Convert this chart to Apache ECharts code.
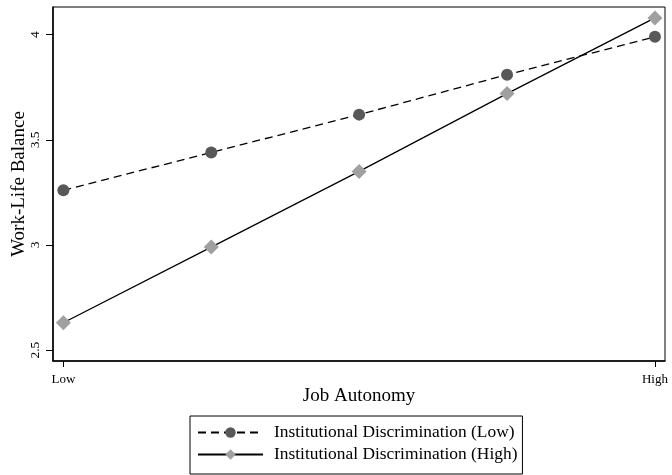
<!DOCTYPE html>
<html><head><meta charset="utf-8">
<script src="https://cdn.jsdelivr.net/npm/echarts@6/dist/echarts.min.js"></script>
<style>html,body{margin:0;padding:0;background:#fff}#c{width:672px;height:475px}</style>
</head><body><div id="c"></div>
<script>
const xPositions = [0, 1, 2, 3, 4];
const xTickValues = [0, 4];
const xTickLabels = {0: 'Low', 4: 'High'};
const yTickValues = [2.5, 3, 3.5, 4];
const lowDisc = [3.26, 3.44, 3.62, 3.81, 3.99];
const highDisc = [2.63, 2.99, 3.35, 3.72, 4.08];
const seriesNames = ['Institutional Discrimination (Low)', 'Institutional Discrimination (High)'];

const font = 'Liberation Serif';
const chart = echarts.init(document.getElementById('c'));
chart.setOption({
  animation: false,
  grid: {left: 53, right: 7, top: 7, bottom: 114, show: true, borderColor: '#000', borderWidth: 1, containLabel: false, outerBoundsMode: 'none'},
  xAxis: {
    type: 'value', min: -0.07, max: 4.068,
    name: 'Job Autonomy', nameLocation: 'middle', nameGap: 26, nameMoveOverlap: false,
    nameTextStyle: {fontFamily: font, fontSize: 19, color: '#000'},
    splitLine: {show: false},
    axisLine: {onZero: false, lineStyle: {color: '#000', width: 1.5}},
    axisTick: {customValues: xTickValues, length: 6, lineStyle: {color: '#000'}},
    axisLabel: {customValues: xTickValues, formatter: v => xTickLabels[v] || '', fontFamily: font, fontSize: 13, color: '#000', margin: 12}
  },
  yAxis: {
    type: 'value', min: 2.448, max: 4.132,
    name: 'Work-Life Balance', nameLocation: 'middle', nameGap: 24, nameMoveOverlap: false,
    nameTextStyle: {fontFamily: font, fontSize: 19, color: '#000'},
    splitLine: {show: false},
    axisLine: {show: true, onZero: false, lineStyle: {color: '#000', width: 1.5}},
    axisTick: {show: true, customValues: yTickValues, length: 7, lineStyle: {color: '#000'}},
    axisLabel: {customValues: yTickValues, rotate: 90, fontFamily: font, fontSize: 13.5, color: '#000', margin: 11}
  },
  legend: {
    left: 190, top: 416,
    orient: 'vertical',
    itemWidth: 65, itemHeight: 13, itemGap: 5,
    padding: [8, 5, 11, 7],
    borderColor: '#000', borderWidth: 1,
    textStyle: {fontFamily: font, fontSize: 17.4, color: '#000', padding: [0, 0, 0, 6]},
    data: seriesNames
  },
  series: [
    {
      name: seriesNames[0], type: 'line',
      data: xPositions.map((x, i) => [x, lowDisc[i]]),
      symbol: 'circle', symbolSize: 12,
      itemStyle: {color: '#585858'},
      lineStyle: {color: '#000', width: 1.3, type: [8, 5]}
    },
    {
      name: seriesNames[1], type: 'line',
      data: xPositions.map((x, i) => [x, highDisc[i]]),
      symbol: 'diamond', symbolSize: 15,
      itemStyle: {color: '#a0a0a0'},
      lineStyle: {color: '#000', width: 1.3}
    }
  ]
});
</script></body></html>
